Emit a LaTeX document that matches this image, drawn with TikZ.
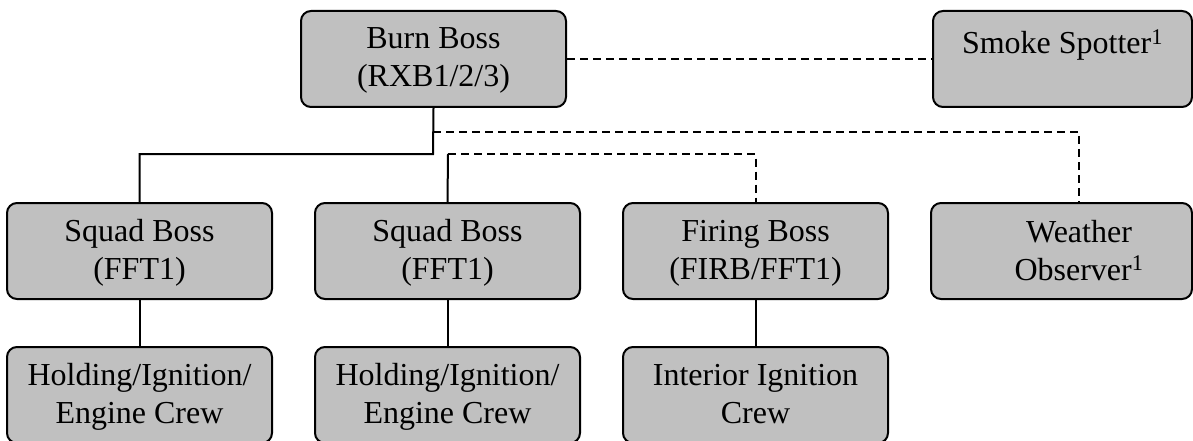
\documentclass[tikz,border=0pt]{standalone}
\usepackage{fontspec}
\setmainfont{Liberation Serif}
\begin{document}
\begin{tikzpicture}[x=1pt,y=-1pt,
  box/.style={draw=black, line width=2pt, fill=boxgray, rounded corners=10pt,
    minimum width=265pt, minimum height=96pt, inner sep=0pt},
  lbl/.style={anchor=base, inner sep=0pt,
    font=\fontsize{32pt}{38pt}\selectfont},
  link/.style={draw=black, line width=2pt},
  dlink/.style={draw=black, line width=2pt, dash pattern=on 8pt off 5pt}]
\definecolor{boxgray}{RGB}{192,192,192}
\useasboundingbox (0,0) rectangle (1193,441);

% boxes
\node[box] (bb)  at (433.5,59) {};
\node[box, minimum width=259pt] (ss) at (1062.5,59) {};
\node[box] (sq1) at (139.5,251) {};
\node[box] (sq2) at (447.5,251) {};
\node[box] (fb)  at (755.5,251) {};
\node[box, minimum width=261pt] (wo) at (1061.5,251) {};
\node[box] (hi1) at (139.5,395) {};
\node[box] (hi2) at (447.5,395) {};
\node[box] (ic)  at (755.5,395) {};

% labels
\node[lbl] (bb-t)  at ([yshift=-39pt]bb.north)
  {\begin{tabular}[t]{@{}c@{}}Burn Boss\\(RXB1/2/3)\end{tabular}};
\node[lbl] (ss-t)  at ([yshift=-44pt]ss.north) {Smoke Spotter\textsuperscript{1}};
\node[lbl] (sq1-t) at ([yshift=-39pt]sq1.north)
  {\begin{tabular}[t]{@{}c@{}}Squad Boss\\(FFT1)\end{tabular}};
\node[lbl] (sq2-t) at ([yshift=-39pt]sq2.north)
  {\begin{tabular}[t]{@{}c@{}}Squad Boss\\(FFT1)\end{tabular}};
\node[lbl] (fb-t)  at ([yshift=-39pt]fb.north)
  {\begin{tabular}[t]{@{}c@{}}Firing Boss\\(FIRB/FFT1)\end{tabular}};
\coordinate (wo-in) at (1079,203);
\node[lbl] (wo-t)  at ([yshift=-39pt]wo-in)
  {\begin{tabular}[t]{@{}c@{}}Weather\\Observer\textsuperscript{1}\end{tabular}};
\node[lbl] (hi1-t) at ([yshift=-39pt]hi1.north)
  {\begin{tabular}[t]{@{}c@{}}Holding/Ignition/\\Engine Crew\end{tabular}};
\node[lbl] (hi2-t) at ([yshift=-39pt]hi2.north)
  {\begin{tabular}[t]{@{}c@{}}Holding/Ignition/\\Engine Crew\end{tabular}};
\node[lbl] (ic-t)  at ([yshift=-39pt]ic.north)
  {\begin{tabular}[t]{@{}c@{}}Interior Ignition\\Crew\end{tabular}};

% line of command
\coordinate (j1) at (433,154);
\coordinate (j2) at (448,154);
\coordinate (j3) at (433,132);
\draw[link] (bb.south) -- (j1) -| (sq1.north);
\draw[link] (j2) -- (sq2.north);
\draw[link] (sq1.south) -- (hi1.north);
\draw[link] (sq2.south) -- (hi2.north);
\draw[link] (fb.south) -- (ic.north);

% advisory links
\draw[dlink] (bb.east) -- (ss.west);
\draw[dlink] (j2) -| (fb.north);
\draw[dlink] (j3) -| (wo-in);
\end{tikzpicture}
\end{document}
